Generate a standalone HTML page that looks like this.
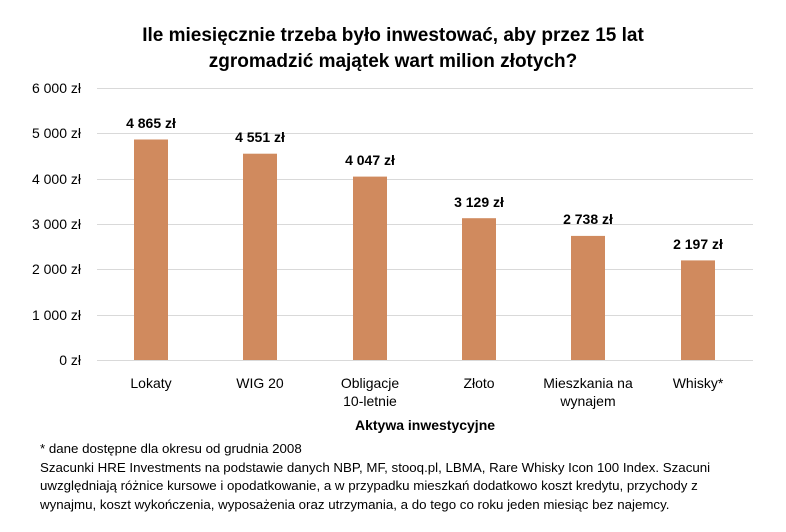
<!DOCTYPE html>
<html><head><meta charset="utf-8"><style>
body{margin:0;background:#fff;}
svg{display:block;font-family:"Liberation Sans","DejaVu Sans",sans-serif;}
</style></head><body>
<svg width="786" height="532" viewBox="0 0 786 532" xmlns="http://www.w3.org/2000/svg">
<rect width="786" height="532" fill="#fff"/>
<g font-weight="bold" font-size="19" fill="#000" text-anchor="middle">
<text x="393" y="41">Ile miesięcznie trzeba było inwestować, aby przez 15 lat</text>
<text x="393" y="67">zgromadzić majątek wart milion złotych?</text>
</g>
<g stroke="#d9d9d9" stroke-width="1">
<line x1="97" x2="753" y1="88.5" y2="88.5"/>
<line x1="97" x2="753" y1="133.5" y2="133.5"/>
<line x1="97" x2="753" y1="179.5" y2="179.5"/>
<line x1="97" x2="753" y1="224.5" y2="224.5"/>
<line x1="97" x2="753" y1="269.5" y2="269.5"/>
<line x1="97" x2="753" y1="315.5" y2="315.5"/>
<line x1="97" x2="753" y1="360.5" y2="360.5"/>
</g>
<g font-size="14" fill="#000" text-anchor="end">
<text x="81" y="93">6 000 zł</text>
<text x="81" y="138">5 000 zł</text>
<text x="81" y="184">4 000 zł</text>
<text x="81" y="229">3 000 zł</text>
<text x="81" y="274">2 000 zł</text>
<text x="81" y="320">1 000 zł</text>
<text x="81" y="365">0 zł</text>
</g>
<g fill="#D08A5E">
<rect x="134" y="139.5" width="34" height="220.5"/>
<rect x="243" y="153.7" width="34" height="206.3"/>
<rect x="353" y="176.6" width="34" height="183.4"/>
<rect x="462" y="218.2" width="34" height="141.8"/>
<rect x="571" y="235.9" width="34" height="124.1"/>
<rect x="681" y="260.4" width="34" height="99.6"/>
</g>
<g font-size="14" font-weight="bold" fill="#000" text-anchor="middle">
<text x="151" y="128">4 865 zł</text>
<text x="260" y="142">4 551 zł</text>
<text x="370" y="165">4 047 zł</text>
<text x="479" y="207">3 129 zł</text>
<text x="588" y="224">2 738 zł</text>
<text x="698" y="249">2 197 zł</text>
</g>
<g font-size="14" fill="#000" text-anchor="middle">
<text x="151" y="388">Lokaty</text>
<text x="260" y="388">WIG 20</text>
<text x="370" y="388">Obligacje</text>
<text x="370" y="406">10-letnie</text>
<text x="479" y="388">Złoto</text>
<text x="588" y="388">Mieszkania na</text>
<text x="588" y="406">wynajem</text>
<text x="698" y="388">Whisky*</text>
<text x="425" y="430" font-weight="bold">Aktywa inwestycyjne</text>
</g>
<g font-size="13.3" fill="#000">
<text x="40" y="453">* dane dostępne dla okresu od grudnia 2008</text>
<text x="40" y="472">Szacunki HRE Investments na podstawie danych NBP, MF, stooq.pl, LBMA, Rare Whisky Icon 100 Index. Szacuni</text>
<text x="40" y="490">uwzględniają różnice kursowe i opodatkowanie, a w przypadku mieszkań dodatkowo koszt kredytu, przychody z</text>
<text x="40" y="509">wynajmu, koszt wykończenia, wyposażenia oraz utrzymania, a do tego co roku jeden miesiąc bez najemcy.</text>
</g>
</svg>
</body></html>
